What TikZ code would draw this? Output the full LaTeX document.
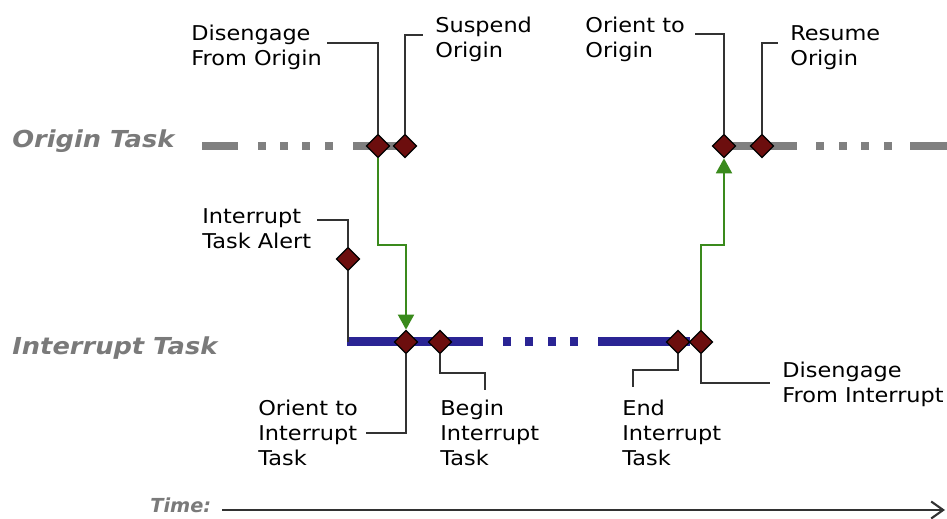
\documentclass[tikz,border=0pt]{standalone}
\usepackage{fontspec}
\setmainfont{DejaVu Sans}[FakeStretch=1.1]
\newfontfamily\plainfont{DejaVu Sans}
\usetikzlibrary{shapes.geometric,arrows.meta,calc}
\definecolor{dmred}{RGB}{108,14,14}
\definecolor{bargray}{RGB}{128,128,128}
\definecolor{lblgray}{RGB}{122,122,122}
\definecolor{barblue}{RGB}{42,36,148}
\definecolor{arrgreen}{RGB}{58,138,28}
\definecolor{leadgray}{RGB}{50,50,50}
\tikzset{
  evt/.style={diamond,draw=black,line width=0.7pt,fill=dmred,minimum width=0.47cm,minimum height=0.47cm,inner sep=0pt},
  lbl/.style={anchor=north west,inner sep=0pt,align=left,font=\fontsize{11.6pt}{14.2pt}\selectfont},
  tasklbl/.style={anchor=base west,inner sep=0pt,text=lblgray,font=\fontsize{13.3pt}{16pt}\selectfont\bfseries\itshape},
  leader/.style={draw=leadgray,line width=0.9pt},
  graybar/.style={draw=bargray,line width=0.17cm},
  bluebar/.style={draw=barblue,line width=0.18cm},
  flow/.style={draw=arrgreen,line width=1.1pt,-{Triangle[length=0.3cm,width=0.32cm]}},
}
\begin{document}
\begin{tikzpicture}[x=0.02cm,y=-0.02cm]
\useasboundingbox[fill=white] (0,0) rectangle (947,519);

% task labels
\node[tasklbl] (tOrigin) at (12,148) {Origin Task};
\node[tasklbl] (tInter) at (12,355) {Interrupt Task};

% origin bar
\draw[graybar] (202,146) -- (238,146);
\foreach \x in {262,284,306,329} \draw[graybar] (\x-4,146) -- (\x+4,146);
\draw[graybar] (353,146) -- (405,146);
\draw[graybar] (724,146) -- (797,146);
\foreach \x in {820,843,865,888} \draw[graybar] (\x-4,146) -- (\x+4,146);
\draw[graybar] (910,146) -- (947,146);

% interrupt bar
\coordinate (bS) at (347,342);
\draw[bluebar] (bS) -- (483,342);
\foreach \x in {507,529,552,574} \draw[bluebar] (\x-4,342) -- (\x+4,342);
\draw[bluebar] (598,342) -- (690,342);

% event diamonds
\node[evt] (dDO) at (378,146) {};
\node[evt] (dSO) at (405,146) {};
\node[evt] (dOO) at (724,146) {};
\node[evt] (dRO) at (762,146) {};
\node[evt] (dIA) at (348,259) {};
\node[evt] (dOI) at (406,342) {};
\node[evt] (dBI) at (440,342) {};
\node[evt] (dEI) at (678,342) {};
\node[evt] (dDI) at (701,342) {};

% labels
\node[lbl] (lDO) at (191,25) {Disengage\\From Origin};
\node[lbl] (lSO) at (435,17) {Suspend\\Origin};
\node[lbl] (lOO) at (585,17) {Orient to\\Origin};
\node[lbl] (lRO) at (790,25) {Resume\\Origin};
\node[lbl] (lIA) at (202,208) {Interrupt\\Task Alert};
\node[lbl] (lOI) at (258,400) {Orient to\\Interrupt\\Task};
\node[lbl] (lBI) at (440,400) {Begin\\Interrupt\\Task};
\node[lbl] (lEI) at (622,400) {End\\Interrupt\\Task};
\node[lbl] (lDI) at (782,362) {Disengage\\From Interrupt};

% leaders
\draw[leader] (dDO.north) |- ($(lDO.north east)+(5,18)$);
\draw[leader] (dSO.north) |- ($(lSO.north west)+(-12,18)$);
\draw[leader] (dOO.north) |- ($(lOO.north east)+(10,17)$);
\draw[leader] (dRO.north) |- ($(lRO.north west)+(-12,18)$);
\draw[leader] (dIA.north) |- ($(lIA.north east)+(5,12)$);
\draw[leader] (dIA.south) -- (dIA.south |- bS);
\draw[leader] (dOI.south) |- ($(lOI.north east)+(8,33)$);
\draw[leader] (dBI.south) |- ($(lBI.north west)+(45,-27)$) -- ($(lBI.north west)+(45,-10)$);
\draw[leader] (dEI.south) |- ($(lEI.north west)+(11,-30)$) -- ($(lEI.north west)+(11,-13)$);
\draw[leader] (dDI.south) |- ($(lDI.north west)+(-12,21)$);

% flow arrows
\coordinate (gL) at (392,245);
\coordinate (gR) at (712,245);
\draw[flow] (dDO.south) |- (gL) -| (dOI.north);
\draw[flow] (dDI.north) |- (gR) -| (dOO.south);

% time axis
\node[anchor=base west,inner sep=0pt,text=lblgray,font=\plainfont\fontsize{11pt}{13pt}\selectfont\bfseries\itshape] (tm) at (150,513) {Time:};
\coordinate (tS) at (222,510);
\coordinate (tE) at (945,510);
\draw[draw=leadgray,line width=1.2pt,-{Straight Barb[length=0.24cm,width=0.34cm]}] (tS) -- (tE);
\end{tikzpicture}
\end{document}
